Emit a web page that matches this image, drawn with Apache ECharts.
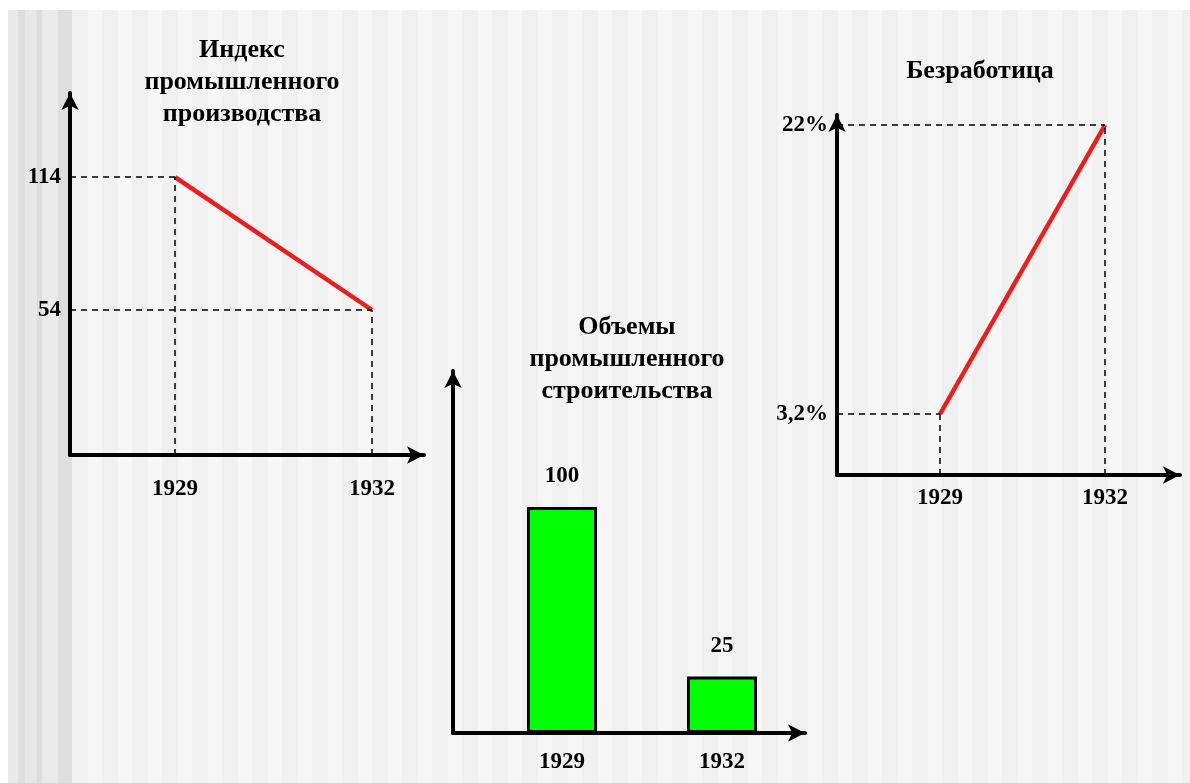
<!DOCTYPE html>
<html>
<head>
<meta charset="utf-8">
<script src="https://cdn.jsdelivr.net/npm/echarts@6/dist/echarts.min.js"></script>
<style>
html,body{margin:0;padding:0;background:#fff;}
#wrap{position:relative;width:1190px;height:783px;overflow:hidden;background:#fff;}
#band{position:absolute;left:8px;top:10px;width:64px;bottom:0;
background:linear-gradient(90deg,#e9e9e9 0,#e9e9e9 10px,#dedede 10px,#dedede 17px,#e7e7e7 17px,#e7e7e7 29px,#dddddd 29px,#dddddd 34px,#eaeaea 34px,#eaeaea 50px,#dedede 50px,#dedede 64px);}
#main{position:absolute;left:72px;top:10px;right:0;bottom:0;
background:repeating-linear-gradient(90deg,#f0f0f0 0,#f0f0f0 16px,#f6f6f6 16px,#f6f6f6 30px);}
#chart{position:absolute;left:0;top:0;width:1190px;height:783px;}
</style>
</head>
<body>
<div id="wrap"><div id="band"></div><div id="main"></div><div id="chart"></div></div>
<script>
// ---- data ----
const years = [1929, 1932];
const industryIndex = [114, 54];
const constructionVolume = [100, 25];
const unemployment = [3.2, 22];
const titleIndex = 'Индекс\nпромышленного\nпроизводства';
const titleConstruction = 'Объемы\nпромышленного\nстроительства';
const titleUnemployment = 'Безработица';

const FONT = 'Liberation Serif';
const txt = {fontFamily: FONT, fontWeight: 'bold', fontSize: 23, color: '#000'};
const ttl = {fontFamily: FONT, fontWeight: 'bold', fontSize: 26, color: '#000', lineHeight: 32};

// axis bounds (per chart)
const ax1 = {xmin: 1927.401, xmax: 1932.792, ymin: -11.41, ymax: 151.9};
const ax2 = {xmin: 1926.956, xmax: 1933.556, ymin: 0, ymax: 160.2};
const ax3 = {xmin: 1927.127, xmax: 1933.363, ymin: -0.768, ymax: 22.651};

function axisLineCfg() {
  return {show: true, onZero: false, symbol: ['none', 'arrow'], symbolSize: [13, 17],
          lineStyle: {color: '#000', width: 4}};
}
function xAxisCfg(gi, ax, margin) {
  return {type: 'value', gridIndex: gi, min: ax.xmin, max: ax.xmax,
    axisLine: axisLineCfg(), axisTick: {show: false}, splitLine: {show: false},
    axisLabel: {customValues: years, margin: margin, formatter: v => String(v), ...txt}};
}
function yAxisCfg(gi, ax, vals, fmt) {
  return {type: 'value', gridIndex: gi, min: ax.ymin, max: ax.ymax,
    axisLine: axisLineCfg(), axisTick: {show: false}, splitLine: {show: false},
    axisLabel: vals ? {customValues: vals, margin: 9, formatter: fmt, ...txt} : {show: false}};
}
const dash = {color: '#000', width: 1.5, type: [6, 5]};
function guides(ax, ys) {
  const d = [];
  years.forEach((yr, i) => {
    d.push([{coord: [ax.xmin, ys[i]]}, {coord: [yr, ys[i]]}]);
    d.push([{coord: [yr, ax.ymin]}, {coord: [yr, ys[i]]}]);
  });
  return {silent: true, symbol: ['none', 'none'], label: {show: false}, lineStyle: dash, data: d};
}

const chart = echarts.init(document.getElementById('chart'), null, {renderer: 'canvas'});
chart.setOption({
  backgroundColor: 'transparent',
  animation: false,
  title: [
    {text: titleIndex, left: 237, top: 29, textAlign: 'center', textStyle: ttl},
    {text: titleConstruction, left: 622, top: 306, textAlign: 'center', textStyle: ttl},
    {text: titleUnemployment, left: 975, top: 50, textAlign: 'center', textStyle: ttl}
  ],
  grid: [
    {left: 70, top: 93, width: 354, height: 362},
    {left: 453, top: 371, width: 352, height: 362},
    {left: 837, top: 115, width: 343, height: 360}
  ],
  xAxis: [xAxisCfg(0, ax1, 23), xAxisCfg(1, ax2, 18), xAxisCfg(2, ax3, 12)],
  yAxis: [
    yAxisCfg(0, ax1, industryIndex, v => String(v)),
    yAxisCfg(1, ax2, null),
    yAxisCfg(2, ax3, unemployment, v => String(v).replace('.', ',') + '%')
  ],
  series: [
    {type: 'line', xAxisIndex: 0, yAxisIndex: 0, symbol: 'none',
     lineStyle: {color: '#ee1c1c', width: 4.5},
     data: years.map((y, i) => [y, industryIndex[i]]),
     markLine: guides(ax1, industryIndex), z: 3},
    {type: 'bar', xAxisIndex: 1, yAxisIndex: 1, barWidth: 70,
     itemStyle: {color: '#00ff00', borderColor: '#000', borderWidth: 3},
     label: {show: true, position: 'top', distance: 19, ...txt},
     data: years.map((y, i) => [y, constructionVolume[i]])},
    {type: 'line', xAxisIndex: 2, yAxisIndex: 2, symbol: 'none',
     lineStyle: {color: '#ee1c1c', width: 4.5},
     data: years.map((y, i) => [y, unemployment[i]]),
     markLine: guides(ax3, unemployment), z: 3}
  ]
});
</script>
</body>
</html>
